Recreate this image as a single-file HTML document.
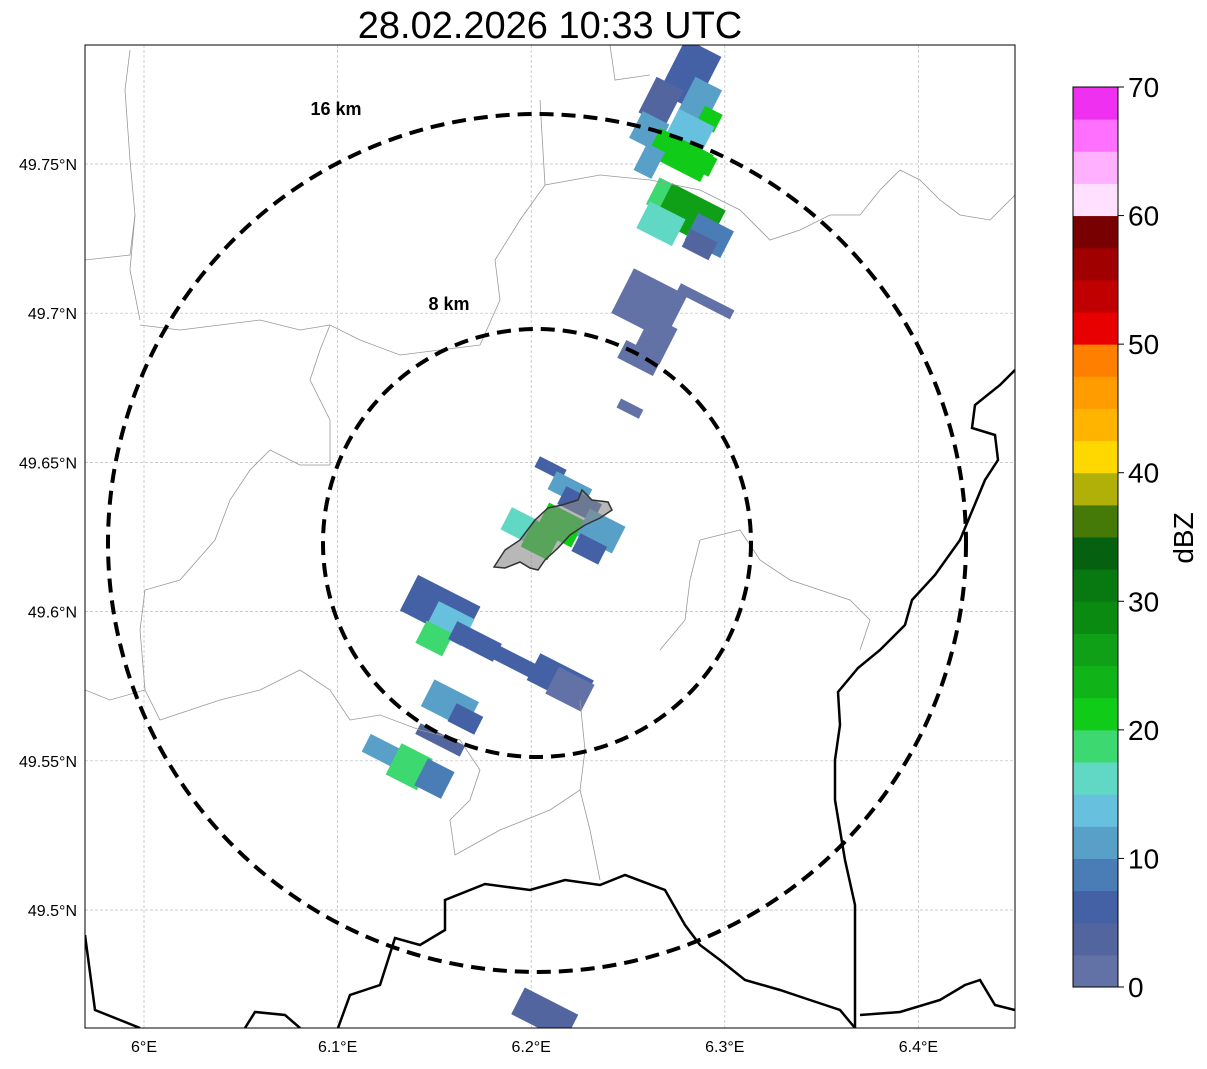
<!DOCTYPE html>
<html><head><meta charset="utf-8"><style>
body{margin:0;background:#fff;font-family:"Liberation Sans",sans-serif}
svg text{font-family:"Liberation Sans",sans-serif}
</style></head><body>
<svg id="chart" width="1207" height="1064" xmlns="http://www.w3.org/2000/svg">
<defs><clipPath id="mapclip"><rect x="85" y="45" width="930" height="983"/></clipPath></defs>
<text x="550" y="38" font-size="38" text-anchor="middle">28.02.2026 10:33 UTC</text>
<g id="grid"></g>
<g clip-path="url(#mapclip)">
<g id="cells"></g>
<g fill="none" stroke="#999" stroke-width="0.8">
<path d="M85,260 L130,255 L135,215 L130,160 L125,90 L130,50"/>
<path d="M140,325 L180,330 L220,325 L260,320 L300,330 L330,325 L360,340 L400,355 L440,350 L480,345 L500,300 L495,260 L520,220 L545,185 L600,175 L650,180 L700,190 L740,210 L770,240 L800,230 L830,215 L860,215 L880,190 L900,170 L920,180 L940,200 L960,215 L990,220 L1015,195"/>
<path d="M135,215 L130,270 L140,320"/>
<path d="M330,325 L320,350 L310,380 L330,420 L330,465 L300,465 L270,450 L250,470 L230,500 L215,540 L180,580 L145,590 L140,630 L145,690 L110,700 L85,690"/>
<path d="M145,690 L160,720 L220,700 L260,690 L300,670 L330,690 L350,720 L380,715 L420,730 L460,740 L480,770 L470,800 L450,820 L455,855 L500,830 L550,810 L580,790 L585,750 L580,700"/>
<path d="M580,790 L590,830 L600,880"/>
<path d="M700,540 L740,530 L760,560 L790,580 L850,600 L870,620 L860,650"/>
<path d="M700,540 L690,580 L685,620 L660,650"/>
<path d="M610,45 L615,80 L650,75"/>
<path d="M540,100 L545,185"/>
</g>
<g fill="none" stroke="#000" stroke-width="2.5">
<path d="M1015,370 L1000,385 L975,405 L972,428 L995,435 L998,460 L985,480 L960,540 L935,575 L912,600 L905,625 L880,650 L858,668 L838,692 L840,725 L835,760 L835,800 L845,860 L855,905 L855,960 L855,1028"/>
<path d="M85,935 L95,1010 L140,1028"/>
<path d="M245,1028 L255,1012 L285,1015 L300,1028"/>
<path d="M338,1028 L350,995 L380,985 L395,938 L420,945 L445,930 L445,900 L485,884 L530,890 L565,880 L600,885 L625,875 L665,890 L685,925 L700,945 L720,960 L745,980 L780,990 L810,1000 L840,1010 L855,1028"/>
<path d="M860,1015 L900,1012 L940,1000 L965,985 L980,980 L995,1005 L1015,1010"/>
</g>
<path d="M494,567 L505,550 L520,540 L535,520 L548,508 L562,505 L578,500 L582,490 L592,500 L608,502 L612,510 L600,518 L585,525 L570,535 L558,548 L545,560 L538,570 L530,568 L520,562 L505,568 Z" fill="#888" fill-opacity="0.6" stroke="#333" stroke-width="1.5"/>
</g>
<g fill="none" stroke="#000" stroke-width="4" stroke-dasharray="14,8">
<ellipse cx="537" cy="543" rx="429" ry="429"/>
<ellipse cx="537" cy="543" rx="214" ry="214"/>
</g>
<text x="336" y="115" font-size="18" font-weight="bold" text-anchor="middle">16 km</text>
<text x="449" y="310" font-size="18" font-weight="bold" text-anchor="middle">8 km</text>
<rect x="85" y="45" width="930" height="983" fill="none" stroke="#000" stroke-width="1"/>
<g id="ticks"></g>
<g id="cbar"></g>
<text transform="translate(1193,538) rotate(-90)" font-size="28" text-anchor="middle">dBZ</text>
</svg>
<script>
const lonTicks=[6.0,6.1,6.2,6.3,6.4];
const lonLabels=["6°E","6.1°E","6.2°E","6.3°E","6.4°E"];
const latTicks=[49.75,49.7,49.65,49.6,49.55,49.5];
const latLabels=["49.75°N","49.7°N","49.65°N","49.6°N","49.55°N","49.5°N"];
const cbTicks=[0,10,20,30,40,50,60,70];
const cbColors=["#6272a6","#52659f","#4461a6","#4a7db5","#58a0c8","#66c0de","#60d8c4","#3dd870","#10cc18","#10b418","#10a018","#0a8a10","#087810","#056010","#457a08","#b0b008","#ffd800","#ffb400","#ff9c00","#ff8000","#e80000","#c00000","#a00000","#780000","#ffe0ff","#ffb0ff","#ff70ff","#f030f0"];
const cellLon=[6.282,6.287,6.267,6.292,6.261,6.282,6.277,6.287,6.261,6.272,6.282,6.267,6.292,6.287,6.261,6.290,6.264,6.256,6.251,6.210,6.220,6.225,6.194,6.215,6.205,6.236,6.230,6.153,6.158,6.150,6.171,6.189,6.215,6.220,6.158,6.166,6.153,6.124,6.137,6.150,6.207];
const cellLat=[49.780,49.771,49.771,49.765,49.761,49.761,49.753,49.751,49.751,49.738,49.733,49.730,49.726,49.723,49.703,49.704,49.691,49.685,49.668,49.648,49.641,49.636,49.629,49.629,49.624,49.627,49.621,49.601,49.596,49.591,49.590,49.584,49.577,49.574,49.569,49.564,49.557,49.553,49.548,49.544,49.465];
const cellDbz=[5,12,3,22,10,14,22,20,10,19,25,17,8,3,2,2,2,2,2,6,12,5,16,21,22,10,5,6,14,19,5,5,7,2,10,5,4,10,19,8,4];
const cellW=[40,30,30,20,30,40,60,30,20,40,60,40,40,30,60,60,30,40,25,30,40,40,30,40,30,40,30,70,40,30,50,60,60,40,50,30,50,40,35,30,60];
const cellH=[60,40,40,20,30,30,30,20,30,30,40,30,30,20,50,10,40,20,10,12,20,20,25,30,30,30,20,40,30,25,20,15,30,30,30,20,12,20,35,30,30];
const NS="http://www.w3.org/2000/svg";
const X=lon=>144+(lon-6.0)*1936;
const Y=lat=>164-(lat-49.75)*2984;
const CB=v=>987-v*900/70;
function mk(tag,attrs,parent){const e=document.createElementNS(NS,tag);for(const k in attrs)e.setAttribute(k,attrs[k]);parent.appendChild(e);return e;}
const grid=document.getElementById('grid'),ticks=document.getElementById('ticks');
lonTicks.forEach((t,i)=>{
 const l=mk('line',{x1:X(t),x2:X(t),y1:45,y2:1028,stroke:'#bbb','stroke-width':0.7,'stroke-dasharray':'3,2'},grid);
 
 
 const tx=mk('text',{x:X(t),y:1052,'font-size':16,'text-anchor':'middle'},ticks);
 tx.textContent=lonLabels[i];
 
 
});
latTicks.forEach((t,i)=>{
 const l=mk('line',{x1:85,x2:1015,y1:Y(t),y2:Y(t),stroke:'#bbb','stroke-width':0.7,'stroke-dasharray':'3,2'},grid);
 
 
 const tx=mk('text',{x:77,y:Y(t)+6,'font-size':16,'text-anchor':'end'},ticks);
 tx.textContent=latLabels[i];
 
 
});
const cells=document.getElementById('cells');
const colorFor=v=>cbColors[Math.max(0,Math.min(27,Math.floor(v/2.5)))];
cellLon.forEach((lon,i)=>{
 const cx=X(lon),cy=Y(cellLat[i]),w=cellW[i],h=cellH[i];
 const r=mk('rect',{x:cx-w/2,y:cy-h/2,width:w,height:h,fill:colorFor(cellDbz[i]),transform:`rotate(27 ${cx} ${cy})`},cells);
 
 
});
const cb=document.getElementById('cbar');
cbColors.forEach((c,i)=>{
 const v0=i*2.5,v1=v0+2.5;
 const r=mk('rect',{x:1073,y:CB(v1),width:45,height:CB(v0)-CB(v1)+0.5,fill:c},cb);
 
 
});
mk('rect',{x:1073,y:CB(70),width:45,height:CB(0)-CB(70),fill:'none',stroke:'#000','stroke-width':1},cb);
cbTicks.forEach(t=>{
 mk('line',{x1:1118,x2:1124,y1:CB(t),y2:CB(t),stroke:'#000'},cb);
 const tx=mk('text',{x:1128,y:CB(t)+10,'font-size':28},cb);
 tx.textContent=t;
 
 
});
</script>
</body></html>
